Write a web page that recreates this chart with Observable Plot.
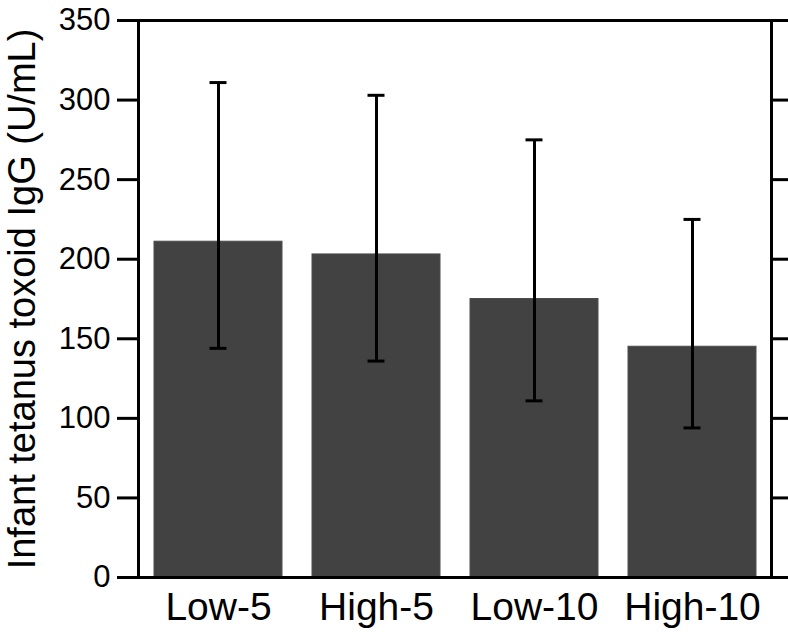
<!DOCTYPE html>
<html>
<head>
<meta charset="utf-8">
<script src="https://cdn.jsdelivr.net/npm/d3@7"></script>
<script src="https://cdn.jsdelivr.net/npm/@observablehq/plot@0.6"></script>
<style>
  html, body { margin: 0; padding: 0; background: #fff; }
</style>
</head>
<body>
<div id="chart"></div>
<script>
const groups = ["Low-5", "High-5", "Low-10", "High-10"];
const means = [211, 203, 175, 145];
const lower = [144, 136, 111, 94];
const upper = [311, 303, 275, 225];
const yTicks = [0, 50, 100, 150, 200, 250, 300, 350];
const yTitle = "Infant tetanus toxoid IgG (U/mL)";

const data = groups.map((g, i) => ({group: g, mean: means[i], lo: lower[i], hi: upper[i]}));

const font = "'Liberation Sans', Arial, Helvetica, sans-serif";

const chart = Plot.plot({
  width: 788,
  height: 632,
  marginLeft: 138,
  marginRight: 17,
  marginTop: 20,
  marginBottom: 55,
  style: {fontFamily: font, background: "#fff", color: "#000"},
  x: {domain: groups, paddingInner: 0.19, paddingOuter: 0.095, label: null},
  y: {domain: [0, 350], label: null},
  marks: [
    Plot.barY(data, {x: "group", y: "mean", fill: "#424242", stroke: "#4c4c4c", strokeWidth: 1}),
    Plot.ruleX(data, {x: "group", y1: "lo", y2: "hi", stroke: "#000", strokeWidth: 3}),
    Plot.tickY(data, {x: "group", y: "hi", stroke: "#000", strokeWidth: 3, inset: 55.5}),
    Plot.tickY(data, {x: "group", y: "lo", stroke: "#000", strokeWidth: 3, inset: 55.5}),
    Plot.frame({stroke: "#000", strokeWidth: 3}),
    Plot.axisY({anchor: "left", ticks: yTicks, tickSize: 21, tickPadding: 7, strokeWidth: 3, fontSize: 31, label: null}),
    Plot.axisY({anchor: "right", ticks: yTicks, tickSize: 17, strokeWidth: 3, tickFormat: () => "", label: null}),
    Plot.axisX({anchor: "bottom", tickSize: 0, tickPadding: 15, fontSize: 39, label: null}),
    Plot.text([yTitle], {text: d => d, frameAnchor: "left", textAnchor: "middle", dx: -116, rotate: -90, fontSize: 38, fill: "#000"})
  ]
});

document.getElementById("chart").appendChild(chart);
</script>
</body>
</html>
